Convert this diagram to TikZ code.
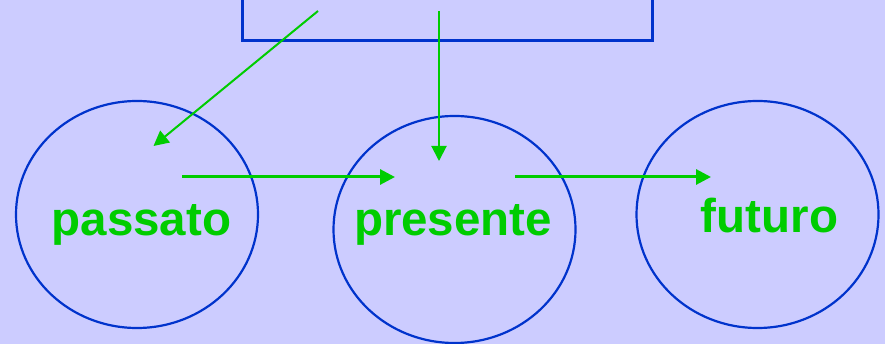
\documentclass[tikz,border=0pt]{standalone}
\usepackage{fontspec}
\setmainfont{Liberation Sans}
\usetikzlibrary{shapes.geometric,arrows.meta}
\definecolor{bgc}{HTML}{CCCCFF}
\definecolor{ringc}{HTML}{0033CC}
\definecolor{arrc}{HTML}{00CC00}
\tikzset{
  ring/.style={draw=ringc, line width=2.2pt, ellipse, minimum width=242pt, minimum height=227pt, inner sep=0pt},
  word/.style={text=arrc, font=\fontsize{47.5pt}{50pt}\selectfont\bfseries, inner sep=0pt, anchor=base},
  link/.style={draw=arrc, line width=2pt, -{Triangle[length=15pt,width=15pt]}},
  thicklink/.style={link, line width=3pt}
}
\begin{document}
\begin{tikzpicture}[x=1pt,y=-1pt]
\fill[bgc] (0,0) rectangle (885,344);
\useasboundingbox (0,0) rectangle (885,344);
\clip (0,0) rectangle (885,344);
\node[draw=ringc, line width=2.2pt, minimum width=410pt, minimum height=80pt, inner sep=0pt] (box) at (447.5,0.5) {};
\node[ring] (e1) at (137,214.5) {};
\node[ring] (e2) at (454.5,229.5) {};
\node[ring] (e3) at (757.5,214.5) {};
\node[word] (t1) at (141.5,236) {passato};
\node[word] (t2) at (453,236) {presente};
\node[word] (t3) at (769.5,232.5) {futuro};
\coordinate (s1) at (318,11);
\coordinate (d1) at (153.5,146);
\coordinate (s2) at (439,11);
\coordinate (d2) at (439,161);
\coordinate (s3) at (182,177);
\coordinate (d3) at (395,177);
\coordinate (s4) at (515,177);
\coordinate (d4) at (711,177);
\draw[link] (s1) -- (d1);
\draw[link] (s2) -- (d2);
\draw[thicklink] (s3) -- (d3);
\draw[thicklink] (s4) -- (d4);
\end{tikzpicture}
\end{document}
